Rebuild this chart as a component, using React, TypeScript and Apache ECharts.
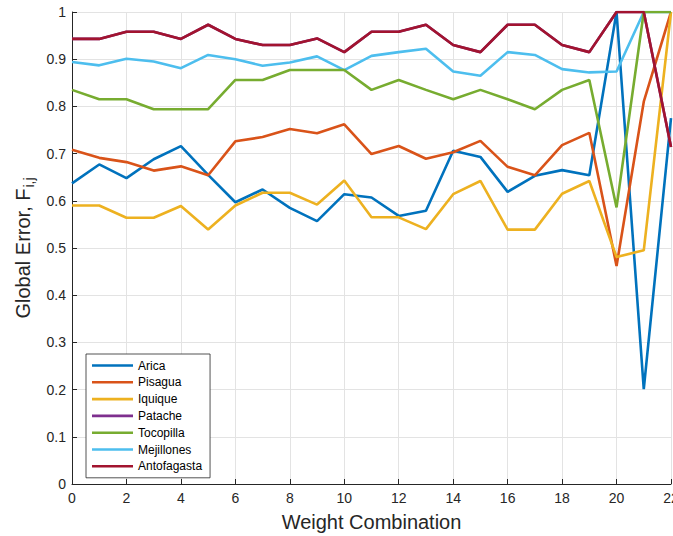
import React, { useEffect, useRef } from "react";
import * as echarts from "echarts";

const xCats = Array.from({ length: 23 }, (_, i) => i);

const arica = [0.637, 0.677, 0.648, 0.688, 0.716, 0.655, 0.597, 0.624, 0.585, 0.557, 0.614, 0.607, 0.568, 0.579, 0.706, 0.693, 0.619, 0.653, 0.665, 0.654, 1.0, 0.201, 0.775];
const pisagua = [0.708, 0.691, 0.682, 0.664, 0.673, 0.654, 0.726, 0.735, 0.752, 0.743, 0.762, 0.699, 0.716, 0.689, 0.703, 0.727, 0.672, 0.654, 0.718, 0.744, 0.462, 0.81, 1.0];
const iquique = [0.59, 0.59, 0.564, 0.564, 0.589, 0.539, 0.59, 0.617, 0.617, 0.592, 0.643, 0.565, 0.565, 0.54, 0.614, 0.642, 0.539, 0.539, 0.615, 0.642, 0.481, 0.495, 1.0];
const antofagasta = [0.943, 0.943, 0.958, 0.958, 0.943, 0.973, 0.943, 0.93, 0.93, 0.944, 0.915, 0.958, 0.958, 0.973, 0.93, 0.915, 0.973, 0.973, 0.93, 0.915, 1.0, 1.0, 0.714];
const patache = [0.943, 0.943, 0.958, 0.958, 0.943, 0.973, 0.943, 0.93, 0.93, 0.944, 0.915, 0.958, 0.958, 0.973, 0.93, 0.915, 0.973, 0.973, 0.93, 0.915, 1.0, 1.0, 0.714];
const tocopilla = [0.835, 0.815, 0.815, 0.794, 0.794, 0.794, 0.856, 0.856, 0.877, 0.877, 0.877, 0.835, 0.856, 0.835, 0.815, 0.835, 0.815, 0.794, 0.835, 0.856, 0.586, 1.0, 1.0];
const mejillones = [0.894, 0.887, 0.901, 0.895, 0.881, 0.909, 0.9, 0.886, 0.893, 0.906, 0.877, 0.907, 0.915, 0.922, 0.874, 0.865, 0.915, 0.909, 0.879, 0.872, 0.874, 1.0, 1.0];

const seriesNames = ["Arica", "Pisagua", "Iquique", "Patache", "Tocopilla", "Mejillones", "Antofagasta"];
const seriesData = [arica, pisagua, iquique, patache, tocopilla, mejillones, antofagasta];
const colors = ["#0072BD", "#D95319", "#EDB120", "#7E2F8E", "#77AC30", "#4DBEEE", "#A2142F"];
const zOrder = [2, 2, 2, 2, 4, 3, 5];

const FONT = "'Liberation Sans', Arial, Helvetica, sans-serif";
const LEGEND_LINE = "path://M0,0 M41,0 M0,4.2 L41,4.2 L41,6.8 L0,6.8 Z M0,11 M41,11";

export default function App() {
  const ref = useRef<HTMLDivElement>(null);
  useEffect(() => {
    if (!ref.current) return;
    const chart = echarts.init(ref.current, null, { renderer: "svg" });
    chart.setOption({
      animation: false,
      textStyle: { fontFamily: FONT },
      grid: { left: 72, right: 2, top: 12, bottom: 52, containLabel: false, outerBoundsMode: "none" },
      legend: {
        orient: "vertical",
        left: 86,
        top: 354,
        data: seriesNames,
        icon: LEGEND_LINE,
        itemWidth: 41,
        itemHeight: 11,
        itemGap: 4.8,
        padding: [5.5, 8, 5.5, 6],
        backgroundColor: "#ffffff",
        borderColor: "#262626",
        borderWidth: 0.8,
        textStyle: { fontSize: 12, color: "#000000", fontFamily: FONT },
        selectedMode: false,
      },
      xAxis: {
        type: "value",
        min: 0,
        max: 22,
        interval: 2,
        name: "Weight Combination",
        nameLocation: "middle",
        nameGap: 28,
        nameTextStyle: { fontSize: 20, color: "#262626", fontFamily: FONT },
        axisLine: { show: true, onZero: false, lineStyle: { color: "#262626", width: 1 } },
        axisTick: { show: true, inside: true, length: 5, lineStyle: { color: "#262626" } },
        axisLabel: { fontSize: 14, color: "#262626", margin: 7, fontFamily: FONT },
        splitLine: { show: true, lineStyle: { color: "#e3e3e3", width: 1 } },
      },
      yAxis: {
        type: "value",
        min: 0,
        max: 1,
        interval: 0.1,
        name: "{a|Global Error, F}{b|i,j}",
        nameLocation: "middle",
        nameGap: 32,
        nameTextStyle: {
          fontSize: 20,
          color: "#262626",
          fontFamily: FONT,
          rich: {
            a: { fontSize: 20, color: "#262626", fontFamily: FONT, lineHeight: 26 },
            b: { fontSize: 14, color: "#262626", fontFamily: FONT, verticalAlign: "bottom", lineHeight: 26, padding: [10, 0, 0, 1] },
          },
        },
        axisLine: { show: true, lineStyle: { color: "#262626", width: 1 } },
        axisTick: { show: true, inside: true, length: 5, lineStyle: { color: "#262626" } },
        axisLabel: {
          fontSize: 14,
          color: "#262626",
          margin: 6,
          fontFamily: FONT,
          formatter: (v: number) => (Math.round(v * 10) / 10).toString(),
        },
        splitLine: { show: true, lineStyle: { color: "#e3e3e3", width: 1 } },
      },
      series: seriesNames.map((name, i) => ({
        name,
        type: "line",
        data: xCats.map((x, j) => [x, seriesData[i][j]]),
        symbol: "none",
        showSymbol: false,
        z: zOrder[i],
        lineStyle: { color: colors[i], width: 2.6 },
        itemStyle: { color: colors[i] },
        color: colors[i],
      })),
    });
    return () => chart.dispose();
  }, []);
  return (
    <div
      ref={ref}
      style={{ position: "fixed", left: 0, top: 0, width: 673, height: 536, background: "#ffffff" }}
    />
  );
}
